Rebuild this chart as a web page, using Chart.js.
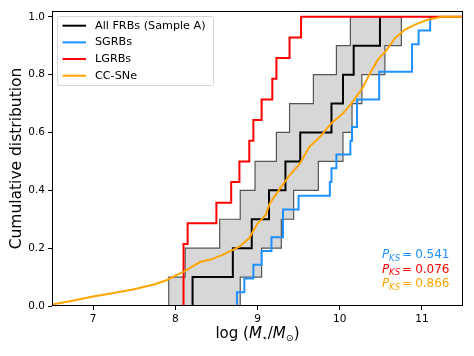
<!DOCTYPE html>
<html>
<head>
<meta charset="utf-8">
<script src="https://cdn.jsdelivr.net/npm/chart.js@4.4.0/dist/chart.umd.min.js"></script>
<style>
  html, body { margin: 0; padding: 0; background: #fff; }
  #wrap { width: 474px; height: 356px; }
</style>
</head>
<body>
<div id="wrap"><canvas id="cdfChart" width="474" height="356"></canvas></div>
<script>
const xTicks = [7, 8, 9, 10, 11];
const yTicks = [0, 0.2, 0.4, 0.6, 0.8, 1.0];

// sorted log(M*/Msun), one entry per step of the cumulative curve
const frbMass = [8.21, 8.70, 8.93, 9.14, 9.34, 9.52, 9.90, 10.04, 10.17, 10.49];
const frbBandLeft = [7.92, 8.12, 8.54, 8.79, 8.97, 9.23, 9.39, 9.68, 9.96, 10.13];
const frbBandRight = [8.79, 9.05, 9.29, 9.44, 9.74, 10.04, 10.15, 10.27, 10.55, 10.75];
const sgrbMass = [8.75, 8.84, 8.95, 9.05, 9.17, 9.31, 9.31, 9.50, 9.88, 9.90, 9.96,
                  10.13, 10.15, 10.21, 10.21, 10.48, 10.48, 10.88, 10.88, 10.96, 11.10];
const lgrbMass = [8.10, 8.10, 8.10, 8.15, 8.50, 8.68, 8.78, 8.90, 8.95, 9.05, 9.18, 9.23, 9.39, 9.53];

// CC-SNe curve
const ccsnMass = [6.5, 6.75, 7.0, 7.25, 7.5, 7.75, 7.9, 8.0, 8.1, 8.2, 8.3, 8.45, 8.6, 8.78, 8.9, 9.0,
                  9.1, 9.15, 9.27, 9.39, 9.51, 9.63, 9.76, 9.9, 10.04, 10.14, 10.27, 10.37, 10.46,
                  10.57, 10.67, 10.79, 10.91, 11.07, 11.24, 11.5];
const ccsnCdf = [0.005, 0.018, 0.033, 0.045, 0.058, 0.075, 0.09, 0.105, 0.118, 0.135, 0.152, 0.162,
                 0.18, 0.205, 0.235, 0.285, 0.315, 0.355, 0.405, 0.452, 0.49, 0.55, 0.585, 0.632,
                 0.666, 0.70, 0.75, 0.805, 0.85, 0.885, 0.925, 0.955, 0.972, 0.99, 1.0, 1.0];

const pksValues = ['0.541', '0.076', '0.866'];

const FONT = "'DejaVu Sans'";
Chart.defaults.font.family = FONT;
Chart.defaults.color = '#000';

function cdfPoints(xs, xEnd) {
    const n = xs.length;
    const pts = [{ x: xs[0], y: 0 }];
    xs.forEach((v, i) => pts.push({ x: v, y: (i + 1) / n }));
    if (xEnd) pts.push({ x: xEnd, y: 1 });
    return pts;
}

// closed outline of the grey band: left edge going up, right edge coming down
function bandPoints(left, right) {
    const n = left.length;
    const pts = [{ x: left[0], y: 0 }];
    left.forEach((v, i) => {
        pts.push({ x: v, y: i / n });
        pts.push({ x: v, y: (i + 1) / n });
    });
    for (let i = n - 1; i >= 0; i--) {
        pts.push({ x: right[i], y: (i + 1) / n });
        pts.push({ x: right[i], y: i / n });
    }
    pts.push({ x: left[0], y: 0 });
    return pts;
}

function drawRuns(ctx, runs, x, y, align) {
    let total = 0;
    runs.forEach(r => { ctx.font = r.font; r.w = ctx.measureText(r.text).width; total += r.w + (r.gap || 0); });
    let cx = align === 'center' ? x - total / 2 : align === 'right' ? x - total : x;
    runs.forEach(r => {
        ctx.font = r.font;
        ctx.fillText(r.text, cx, y + (r.dy || 0));
        cx += r.w + (r.gap || 0);
    });
}

const decor = {
    id: 'decor',
    afterDraw(chart) {
        const { ctx, chartArea: a } = chart;
        ctx.save();
        // axes frame
        ctx.strokeStyle = '#000';
        ctx.lineWidth = 1;
        ctx.strokeRect(a.left + 0.5, a.top + 0.5, a.right - a.left - 1, a.bottom - a.top - 1);

        // legend
        const items = chart.data.datasets.filter(d => d.label);
        const bx = a.left + 5.5, by = a.top + 5.5;
        ctx.fillStyle = 'rgba(255,255,255,0.85)';
        ctx.strokeStyle = '#d6d6d6';
        ctx.beginPath();
        ctx.roundRect(bx, by, 156, 69, 2);
        ctx.fill();
        ctx.stroke();
        ctx.font = '11.2px ' + FONT;
        ctx.textBaseline = 'middle';
        items.forEach((d, i) => {
            const ly = by + 9.2 + i * 16.67;
            ctx.strokeStyle = d.borderColor;
            ctx.lineWidth = 2;
            ctx.beginPath();
            ctx.moveTo(bx + 5, ly);
            ctx.lineTo(bx + 28.5, ly);
            ctx.stroke();
            ctx.fillStyle = '#000';
            ctx.fillText(d.label, bx + 37.5, ly);
        });

        // KS p-values
        ctx.textBaseline = 'alphabetic';
        const pksColors = ['#1e90ff', '#ff0000', '#ffa500'];
        pksValues.forEach((v, i) => {
            ctx.fillStyle = pksColors[i];
            drawRuns(ctx, [
                { text: 'P', font: 'italic 12px ' + FONT },
                { text: 'KS', font: 'italic 8.5px ' + FONT, dy: 2.5, gap: 2 },
                { text: '=', font: '12px ' + FONT, gap: 3 },
                { text: v, font: '12px ' + FONT }
            ], a.right - 13.5, 258 + i * 14.7, 'right');
        });

        // axis titles
        ctx.fillStyle = '#000';
        drawRuns(ctx, [
            { text: 'log (', font: '15px ' + FONT },
            { text: 'M', font: 'italic 15px ' + FONT },
            { text: '\u22C6', font: '9.5px ' + FONT, dy: 3 },
            { text: '/', font: '15px ' + FONT },
            { text: 'M', font: 'italic 15px ' + FONT },
            { text: '\u2299', font: '9.5px ' + FONT, dy: 3 },
            { text: ')', font: '15px ' + FONT }
        ], (a.left + a.right) / 2, 337.5, 'center');

        ctx.translate(17, (a.top + a.bottom) / 2);
        ctx.rotate(-Math.PI / 2);
        ctx.textAlign = 'center';
        ctx.textBaseline = 'middle';
        ctx.font = '15.5px ' + FONT;
        ctx.fillText('Cumulative distribution', 0, 0);
        ctx.restore();
    }
};

const ctx = document.getElementById('cdfChart').getContext('2d');

new Chart(ctx, {
    type: 'line',
    data: {
        datasets: [
            {
                data: bandPoints(frbBandLeft, frbBandRight),
                borderColor: '#555',
                borderWidth: 1.2,
                backgroundColor: '#d7d7d7',
                fill: 'shape',
                order: 6
            },
            {
                label: 'All FRBs (Sample A)',
                data: cdfPoints(frbMass),
                borderColor: '#000',
                borderWidth: 2,
                stepped: true,
                order: 4
            },
            {
                label: 'SGRBs',
                data: cdfPoints(sgrbMass),
                borderColor: '#1e90ff',
                borderWidth: 2,
                stepped: true,
                order: 3
            },
            {
                label: 'LGRBs',
                data: cdfPoints(lgrbMass, 11.5),
                borderColor: '#ff0000',
                borderWidth: 2,
                stepped: true,
                order: 2
            },
            {
                label: 'CC-SNe',
                data: ccsnMass.map((m, i) => ({ x: m, y: ccsnCdf[i] })),
                borderColor: '#ffa500',
                borderWidth: 2,
                order: 1
            }
        ]
    },
    options: {
        responsive: false,
        animation: false,
        devicePixelRatio: 1,
        layout: { padding: { top: 11, right: 11, left: 0, bottom: 0 } },
        elements: {
            point: { radius: 0 },
            line: { tension: 0, fill: false }
        },
        plugins: {
            legend: { display: false },
            tooltip: { enabled: false }
        },
        scales: {
            x: {
                type: 'linear',
                min: 6.5,
                max: 11.5,
                afterBuildTicks: s => { s.ticks = xTicks.map(v => ({ value: v })); },
                afterFit: s => { s.height = 50; },
                grid: { drawOnChartArea: false, tickLength: 4, tickColor: '#000' },
                border: { display: false },
                ticks: { font: { size: 10.5 }, padding: 3, maxRotation: 0 }
            },
            y: {
                min: 0,
                max: 1.02,
                afterBuildTicks: s => { s.ticks = yTicks.map(v => ({ value: v })); },
                afterFit: s => { s.width = 52; },
                grid: { drawOnChartArea: false, tickLength: 4, tickColor: '#000' },
                border: { display: false },
                ticks: { font: { size: 10.5 }, padding: 3, callback: v => v.toFixed(1) }
            }
        }
    },
    plugins: [decor]
});
</script>
</body>
</html>
